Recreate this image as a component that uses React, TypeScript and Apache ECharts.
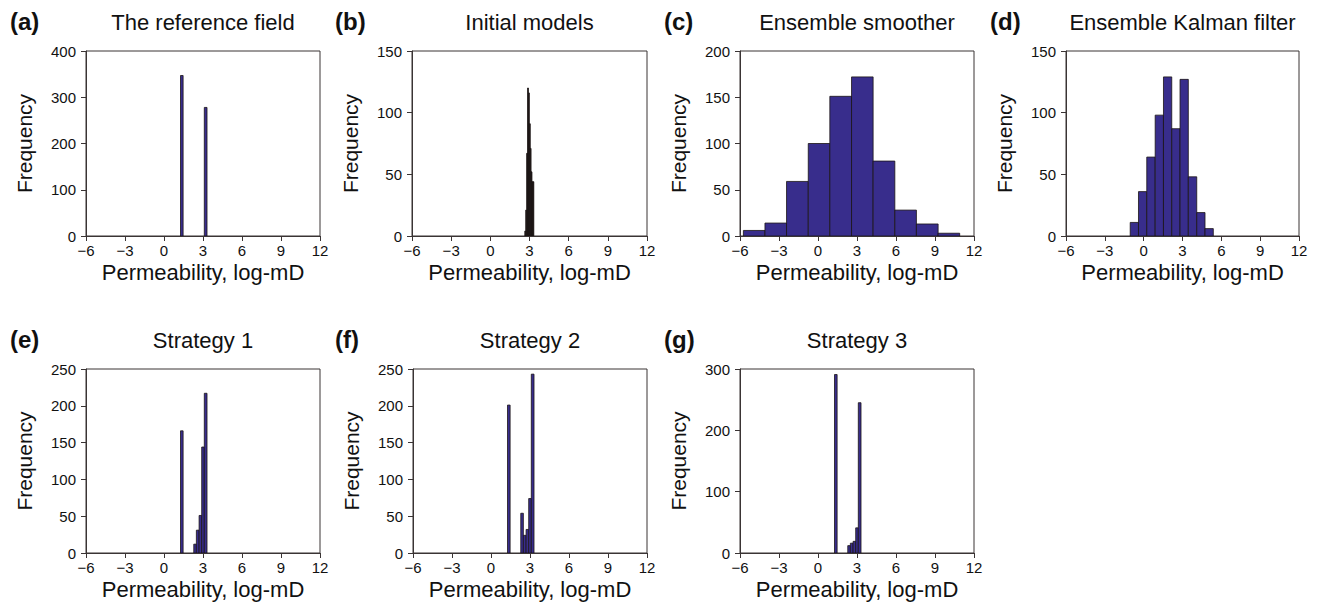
import React, { useEffect, useRef } from "react";
import * as echarts from "echarts";

// ---- data (histogram bin edges and counts) ----
const xTicks = [-6, -3, 0, 3, 6, 9, 12];

// 10-bin histograms spanning the two facies values (panels a, e, f, g)
const twoFaciesEdges = [1.27, 1.47, 1.68, 1.88, 2.08, 2.29, 2.49, 2.7, 2.9, 3.1, 3.31];
const referenceCounts = [347, 0, 0, 0, 0, 0, 0, 0, 0, 278];
const strategy1Counts = [166, 0, 0, 0, 0, 12, 31, 51, 144, 217];
const strategy2Counts = [201, 0, 0, 0, 0, 54, 24, 32, 74, 243];
const strategy3Counts = [291, 0, 0, 0, 0, 12, 16, 19, 41, 245];

const initialEdges = [2.64, 2.71, 2.78, 2.85, 2.92, 2.99, 3.06, 3.12, 3.19, 3.26, 3.33];
const initialCounts = [4, 21, 67, 120, 116, 91, 71, 52, 44, 44];

const esEdges = [-5.74, -4.08, -2.42, -0.75, 0.91, 2.58, 4.24, 5.91, 7.57, 9.24, 10.9];
const esCounts = [6, 14, 59, 100, 151, 172, 81, 28, 13, 3];

const enkfEdges = [-1.04, -0.4, 0.24, 0.89, 1.53, 2.17, 2.81, 3.45, 4.1, 4.74, 5.38];
const enkfCounts = [11, 36, 64, 98, 129, 87, 127, 48, 19, 6];

const panelLetters = ["(a)", "(b)", "(c)", "(d)", "(e)", "(f)", "(g)"];
const panelTitles = [
  "The reference field",
  "Initial models",
  "Ensemble smoother",
  "Ensemble Kalman filter",
  "Strategy 1",
  "Strategy 2",
  "Strategy 3",
];
const yMaxes = [400, 150, 200, 150, 250, 250, 300];
const yIntervals = [100, 50, 50, 50, 50, 50, 100];

const NAVY = "#382d8c";
const DARK = "#231815";
const AXIS = "#3a3434";

const panelData = [
  { edges: twoFaciesEdges, counts: referenceCounts, fill: NAVY },
  { edges: initialEdges, counts: initialCounts, fill: DARK },
  { edges: esEdges, counts: esCounts, fill: NAVY },
  { edges: enkfEdges, counts: enkfCounts, fill: NAVY },
  { edges: twoFaciesEdges, counts: strategy1Counts, fill: NAVY },
  { edges: twoFaciesEdges, counts: strategy2Counts, fill: NAVY },
  { edges: twoFaciesEdges, counts: strategy3Counts, fill: NAVY },
];

// ---- layout ----
const layout = [
  { left: 86, top: 51, width: 234, height: 185, letterX: 10 },
  { left: 412, top: 51, width: 235, height: 185, letterX: 335 },
  { left: 740, top: 51, width: 234, height: 185, letterX: 664 },
  { left: 1066, top: 51, width: 233, height: 185, letterX: 990 },
  { left: 86, top: 369, width: 234, height: 184, letterX: 10 },
  { left: 413, top: 369, width: 234, height: 184, letterX: 335 },
  { left: 740, top: 369, width: 234, height: 184, letterX: 664 },
];

const FONT = "'Liberation Sans', Arial, Helvetica, sans-serif";

function fmt(v: number) {
  return v < 0 ? "\u2212" + Math.abs(v) : String(v);
}

export default function App() {
  const ref = useRef<HTMLDivElement>(null);

  useEffect(() => {
    if (!ref.current) return;
    const chart = echarts.init(ref.current, undefined, { renderer: "svg" });

    const grids: any[] = [];
    const xAxes: any[] = [];
    const yAxes: any[] = [];
    const series: any[] = [];
    const titles: any[] = [];

    layout.forEach((g, i) => {
      const row2 = i >= 4;
      grids.push({
        left: g.left,
        top: g.top,
        width: g.width,
        height: g.height,
        show: true,
        borderColor: AXIS,
        borderWidth: 1,
        containLabel: false,
      });
      xAxes.push({
        type: "value",
        gridIndex: i,
        min: xTicks[0],
        max: xTicks[xTicks.length - 1],
        interval: 3,
        name: "Permeability, log-mD",
        nameLocation: "middle",
        nameGap: 25,
        nameTextStyle: { fontSize: 22, color: "#111", fontFamily: FONT, verticalAlign: "top" },
        axisLine: { show: true, onZero: false, lineStyle: { color: AXIS, width: 1 } },
        axisTick: { show: true, length: 5, lineStyle: { color: AXIS } },
        axisLabel: { fontSize: 15, color: "#111", fontFamily: FONT, margin: 7, formatter: fmt },
        splitLine: { show: false },
      });
      yAxes.push({
        type: "value",
        gridIndex: i,
        min: 0,
        max: yMaxes[i],
        interval: yIntervals[i],
        name: "Frequency",
        nameLocation: "middle",
        nameRotate: 90,
        nameGap: 51,
        nameTextStyle: { fontSize: 21, color: "#111", fontFamily: FONT },
        axisLine: { show: true, onZero: false, lineStyle: { color: AXIS, width: 1 } },
        axisTick: { show: true, length: 5, lineStyle: { color: AXIS } },
        axisLabel: { fontSize: 15, color: "#111", fontFamily: FONT, margin: 10 },
        splitLine: { show: false },
      });

      const pd = panelData[i];
      const items = pd.counts.map((c, k) => [pd.edges[k], pd.edges[k + 1], c]);
      const fill = pd.fill;
      series.push({
        type: "custom",
        xAxisIndex: i,
        yAxisIndex: i,
        data: items,
        encode: { x: [0, 1], y: 2 },
        clip: true,
        renderItem: (params: any, api: any) => {
          const h = api.value(2);
          if (!h) return null;
          const p0 = api.coord([api.value(0), 0]);
          const p1 = api.coord([api.value(1), h]);
          return {
            type: "rect",
            shape: { x: p0[0], y: p1[1], width: p1[0] - p0[0], height: p0[1] - p1[1] },
            style: { fill, stroke: "#1a1414", lineWidth: 0.8 },
          };
        },
      });

      const rowTop = row2 ? 328 : 10;
      titles.push({
        text: panelLetters[i],
        left: g.letterX,
        top: rowTop - 1,
        padding: 0,
        textStyle: { fontSize: 24, fontWeight: "bold", color: "#111", fontFamily: FONT },
      });
      titles.push({
        text: panelTitles[i],
        left: g.left + g.width / 2,
        textAlign: "center",
        top: rowTop + 1,
        padding: 0,
        textStyle: { fontSize: 22, fontWeight: "normal", color: "#111", fontFamily: FONT },
      });
    });

    chart.setOption({
      animation: false,
      backgroundColor: "#ffffff",
      title: titles,
      grid: grids,
      xAxis: xAxes,
      yAxis: yAxes,
      series,
    });

    return () => chart.dispose();
  }, []);

  return (
    <div
      ref={ref}
      style={{ position: "absolute", left: 0, top: 0, width: 1320, height: 610 }}
    />
  );
}
